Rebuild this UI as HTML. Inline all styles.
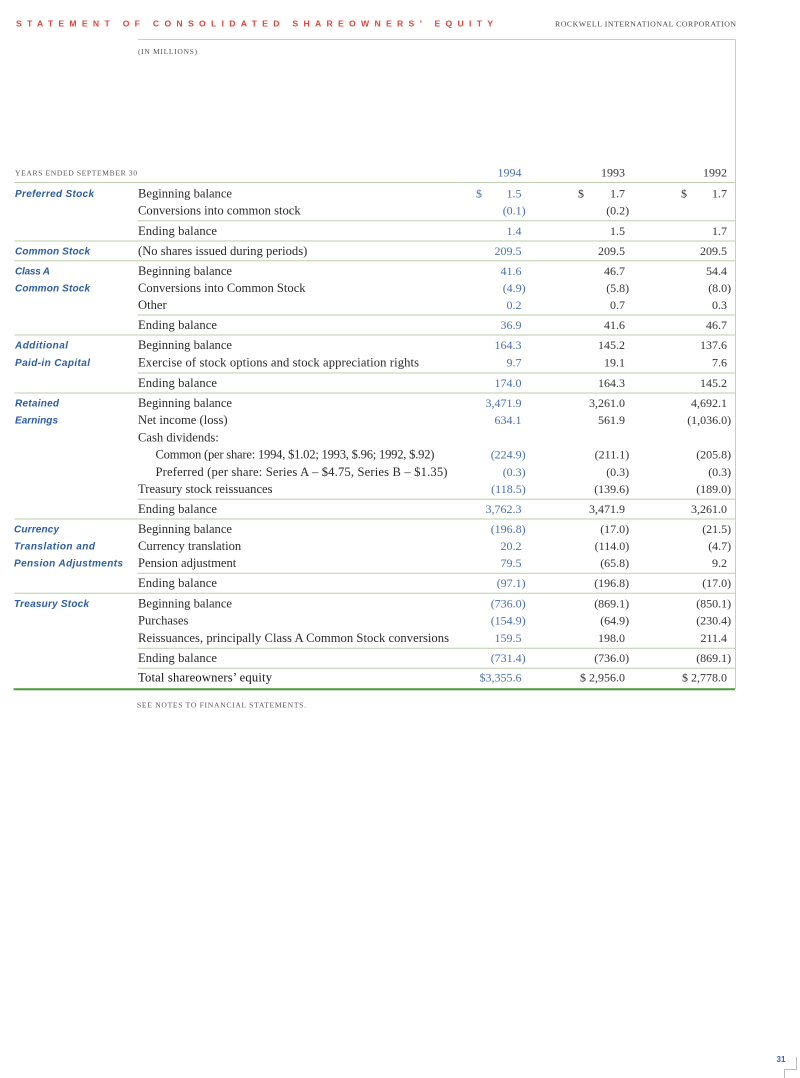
<!DOCTYPE html>
<html><head><meta charset="utf-8"><style>
html,body{margin:0;padding:0;background:#fff;}
svg{display:block;}
.t{font-family:"Liberation Serif",serif;font-size:12.6px;fill:#2a2a2a;}
.n{font-family:"Liberation Serif",serif;font-size:12px;fill:#333;}
.b{font-family:"Liberation Serif",serif;font-size:12px;fill:#4a70b0;}
.l{font-family:"Liberation Sans",sans-serif;font-size:10px;font-weight:bold;font-style:italic;fill:#2b5ca6;}
.sc{font-family:"Liberation Serif",serif;font-size:7.6px;fill:#555;}
</style></head><body>
<svg width="800" height="1078" viewBox="0 0 800 1078" xmlns="http://www.w3.org/2000/svg">
<rect width="800" height="1078" fill="#fff"/>
<!-- header -->
<text x="16" y="26.5" font-family="Liberation Sans,sans-serif" font-weight="bold" font-size="8.6" fill="#e2453c" textLength="477" lengthAdjust="spacing">STATEMENT OF CONSOLIDATED SHAREOWNERS’ EQUITY</text>
<text x="555" y="26.5" font-family="Liberation Serif,serif" font-size="7.8" fill="#444" textLength="181" lengthAdjust="spacing">ROCKWELL INTERNATIONAL CORPORATION</text>
<line x1="138" y1="39.5" x2="735.5" y2="39.5" stroke="#c5d2bb" stroke-width="1"/>
<line x1="735.5" y1="39.5" x2="735.5" y2="689" stroke="#c5d2bb" stroke-width="1"/>
<text x="138" y="54" class="sc" font-size="7.8" textLength="59" lengthAdjust="spacing">(IN MILLIONS)</text>

<text x="15" y="175.3" class="sc" textLength="122" lengthAdjust="spacing">YEARS ENDED SEPTEMBER 30</text>
<text x="521.5" y="176.5" class="b" text-anchor="end">1994</text>
<text x="625" y="176.5" class="n" text-anchor="end">1993</text>
<text x="727" y="176.5" class="n" text-anchor="end">1992</text>

<!-- lines -->
<g stroke="#bccfae" stroke-width="1">
<line x1="14.5" y1="182.5" x2="735" y2="182.5"/>
<line x1="137.5" y1="220.7" x2="735" y2="220.7"/>
<line x1="14.5" y1="241" x2="735" y2="241"/>
<line x1="14.5" y1="260.8" x2="735" y2="260.8"/>
<line x1="137.5" y1="315" x2="735" y2="315"/>
<line x1="14.5" y1="335" x2="735" y2="335"/>
<line x1="137.5" y1="373" x2="735" y2="373"/>
<line x1="14.5" y1="393" x2="735" y2="393"/>
<line x1="137.5" y1="499.3" x2="735" y2="499.3"/>
<line x1="14.5" y1="519" x2="735" y2="519"/>
<line x1="137.5" y1="573.3" x2="735" y2="573.3"/>
<line x1="14.5" y1="593.3" x2="735" y2="593.3"/>
<line x1="137.5" y1="648.3" x2="735" y2="648.3"/>
<line x1="137.5" y1="668.3" x2="735" y2="668.3"/>
</g>
<line x1="13.5" y1="689.3" x2="735" y2="689.3" stroke="#4c9a3c" stroke-width="2"/>

<!-- left labels -->
<text x="15" y="196.9" class="l" textLength="79" lengthAdjust="spacing">Preferred Stock</text>
<text x="15" y="254.6" class="l" textLength="75" lengthAdjust="spacing">Common Stock</text>
<text x="15" y="274.3" class="l" textLength="35" lengthAdjust="spacing">Class A</text>
<text x="15" y="291.6" class="l" textLength="75" lengthAdjust="spacing">Common Stock</text>
<text x="15" y="348.6" class="l" textLength="53" lengthAdjust="spacing">Additional</text>
<text x="15" y="366.1" class="l" textLength="75" lengthAdjust="spacing">Paid-in Capital</text>
<text x="15" y="406.6" class="l" textLength="44" lengthAdjust="spacing">Retained</text>
<text x="15" y="423.6" class="l" textLength="43" lengthAdjust="spacing">Earnings</text>
<text x="14" y="532.6" class="l" textLength="45" lengthAdjust="spacing">Currency</text>
<text x="14" y="549.6" class="l" textLength="81" lengthAdjust="spacing">Translation and</text>
<text x="14" y="566.6" class="l" textLength="109" lengthAdjust="spacing">Pension Adjustments</text>
<text x="14" y="606.9" class="l" textLength="75" lengthAdjust="spacing">Treasury Stock</text>

<!-- body text -->
<g class="t">
<text x="138" y="197.5" textLength="94" lengthAdjust="spacing">Beginning balance</text>
<text x="138" y="214.7">Conversions into common stock</text>
<text x="138" y="234.9" textLength="79" lengthAdjust="spacing">Ending balance</text>
<text x="138" y="255.2">(No shares issued during periods)</text>
<text x="138" y="274.9" textLength="94" lengthAdjust="spacing">Beginning balance</text>
<text x="138" y="292.2">Conversions into Common Stock</text>
<text x="138" y="309.2">Other</text>
<text x="138" y="329" textLength="79" lengthAdjust="spacing">Ending balance</text>
<text x="138" y="349.2" textLength="94" lengthAdjust="spacing">Beginning balance</text>
<text x="138" y="366.7" textLength="281" lengthAdjust="spacing">Exercise of stock options and stock appreciation rights</text>
<text x="138" y="387.2" textLength="79" lengthAdjust="spacing">Ending balance</text>
<text x="138" y="407.2" textLength="94" lengthAdjust="spacing">Beginning balance</text>
<text x="138" y="424.2">Net income (loss)</text>
<text x="138" y="441.7">Cash dividends:</text>
<text x="155.5" y="458.7" textLength="279" lengthAdjust="spacing">Common (per share: 1994, $1.02; 1993, $.96; 1992, $.92)</text>
<text x="155.5" y="475.9" textLength="292" lengthAdjust="spacing">Preferred (per share:  Series A – $4.75, Series B – $1.35)</text>
<text x="138" y="493.2">Treasury stock reissuances</text>
<text x="138" y="512.9" textLength="79" lengthAdjust="spacing">Ending balance</text>
<text x="138" y="533.2" textLength="94" lengthAdjust="spacing">Beginning balance</text>
<text x="138" y="550.2">Currency translation</text>
<text x="138" y="567.2">Pension adjustment</text>
<text x="138" y="587.2" textLength="79" lengthAdjust="spacing">Ending balance</text>
<text x="138" y="607.5" textLength="94" lengthAdjust="spacing">Beginning balance</text>
<text x="138" y="624.7">Purchases</text>
<text x="138" y="641.9" textLength="311" lengthAdjust="spacing">Reissuances, principally Class A Common Stock conversions</text>
<text x="138" y="661.9" textLength="79" lengthAdjust="spacing">Ending balance</text>
<text x="138" y="681.7" fill="#111" textLength="134" lengthAdjust="spacing">Total shareowners’ equity</text>
</g>

<!-- 1994 column (blue) -->
<g class="b" text-anchor="end">
<text x="482" y="197.5">$</text><text x="521.5" y="197.5">1.5</text>
<text x="525.7" y="214.7">(0.1)</text>
<text x="521.5" y="234.9">1.4</text>
<text x="521.5" y="255.2">209.5</text>
<text x="521.5" y="274.9">41.6</text>
<text x="525.7" y="292.2">(4.9)</text>
<text x="521.5" y="309.2">0.2</text>
<text x="521.5" y="329">36.9</text>
<text x="521.5" y="349.2">164.3</text>
<text x="521.5" y="366.7">9.7</text>
<text x="521.5" y="387.2">174.0</text>
<text x="521.5" y="407.2">3,471.9</text>
<text x="521.5" y="424.2">634.1</text>
<text x="525.7" y="458.7">(224.9)</text>
<text x="525.7" y="475.9">(0.3)</text>
<text x="525.7" y="493.2">(118.5)</text>
<text x="521.5" y="512.9">3,762.3</text>
<text x="525.7" y="533.2">(196.8)</text>
<text x="521.5" y="550.2">20.2</text>
<text x="521.5" y="567.2">79.5</text>
<text x="525.7" y="587.2">(97.1)</text>
<text x="525.7" y="607.5">(736.0)</text>
<text x="525.7" y="624.7">(154.9)</text>
<text x="521.5" y="641.9">159.5</text>
<text x="525.7" y="661.9">(731.4)</text>
<text x="521.5" y="681.7">$3,355.6</text>
</g>

<!-- 1993 column -->
<g class="n" text-anchor="end">
<text x="584" y="197.5">$</text><text x="625" y="197.5">1.7</text>
<text x="629.2" y="214.7">(0.2)</text>
<text x="625" y="234.9">1.5</text>
<text x="625" y="255.2">209.5</text>
<text x="625" y="274.9">46.7</text>
<text x="629.2" y="292.2">(5.8)</text>
<text x="625" y="309.2">0.7</text>
<text x="625" y="329">41.6</text>
<text x="625" y="349.2">145.2</text>
<text x="625" y="366.7">19.1</text>
<text x="625" y="387.2">164.3</text>
<text x="625" y="407.2">3,261.0</text>
<text x="625" y="424.2">561.9</text>
<text x="629.2" y="458.7">(211.1)</text>
<text x="629.2" y="475.9">(0.3)</text>
<text x="629.2" y="493.2">(139.6)</text>
<text x="625" y="512.9">3,471.9</text>
<text x="629.2" y="533.2">(17.0)</text>
<text x="629.2" y="550.2">(114.0)</text>
<text x="629.2" y="567.2">(65.8)</text>
<text x="629.2" y="587.2">(196.8)</text>
<text x="629.2" y="607.5">(869.1)</text>
<text x="629.2" y="624.7">(64.9)</text>
<text x="625" y="641.9">198.0</text>
<text x="629.2" y="661.9">(736.0)</text>
<text x="625" y="681.7">$ 2,956.0</text>
</g>

<!-- 1992 column -->
<g class="n" text-anchor="end">
<text x="687" y="197.5">$</text><text x="727" y="197.5">1.7</text>
<text x="727" y="234.9">1.7</text>
<text x="727" y="255.2">209.5</text>
<text x="727" y="274.9">54.4</text>
<text x="731.2" y="292.2">(8.0)</text>
<text x="727" y="309.2">0.3</text>
<text x="727" y="329">46.7</text>
<text x="727" y="349.2">137.6</text>
<text x="727" y="366.7">7.6</text>
<text x="727" y="387.2">145.2</text>
<text x="727" y="407.2">4,692.1</text>
<text x="731.2" y="424.2">(1,036.0)</text>
<text x="731.2" y="458.7">(205.8)</text>
<text x="731.2" y="475.9">(0.3)</text>
<text x="731.2" y="493.2">(189.0)</text>
<text x="727" y="512.9">3,261.0</text>
<text x="731.2" y="533.2">(21.5)</text>
<text x="731.2" y="550.2">(4.7)</text>
<text x="727" y="567.2">9.2</text>
<text x="731.2" y="587.2">(17.0)</text>
<text x="731.2" y="607.5">(850.1)</text>
<text x="731.2" y="624.7">(230.4)</text>
<text x="727" y="641.9">211.4</text>
<text x="731.2" y="661.9">(869.1)</text>
<text x="727" y="681.7">$ 2,778.0</text>
</g>

<text x="137" y="707.6" class="sc" font-size="7.2" textLength="169" lengthAdjust="spacing">SEE NOTES TO FINANCIAL STATEMENTS.</text>

<!-- page number -->
<text x="776.5" y="1062" font-family="Liberation Sans,sans-serif" font-weight="bold" font-size="8" fill="#3a5fa8" textLength="9" lengthAdjust="spacing">31</text>
<path d="M796.5 1057 V1069.5 H784.5 V1078" fill="none" stroke="#bbb" stroke-width="1"/>
</svg>
</body></html>
